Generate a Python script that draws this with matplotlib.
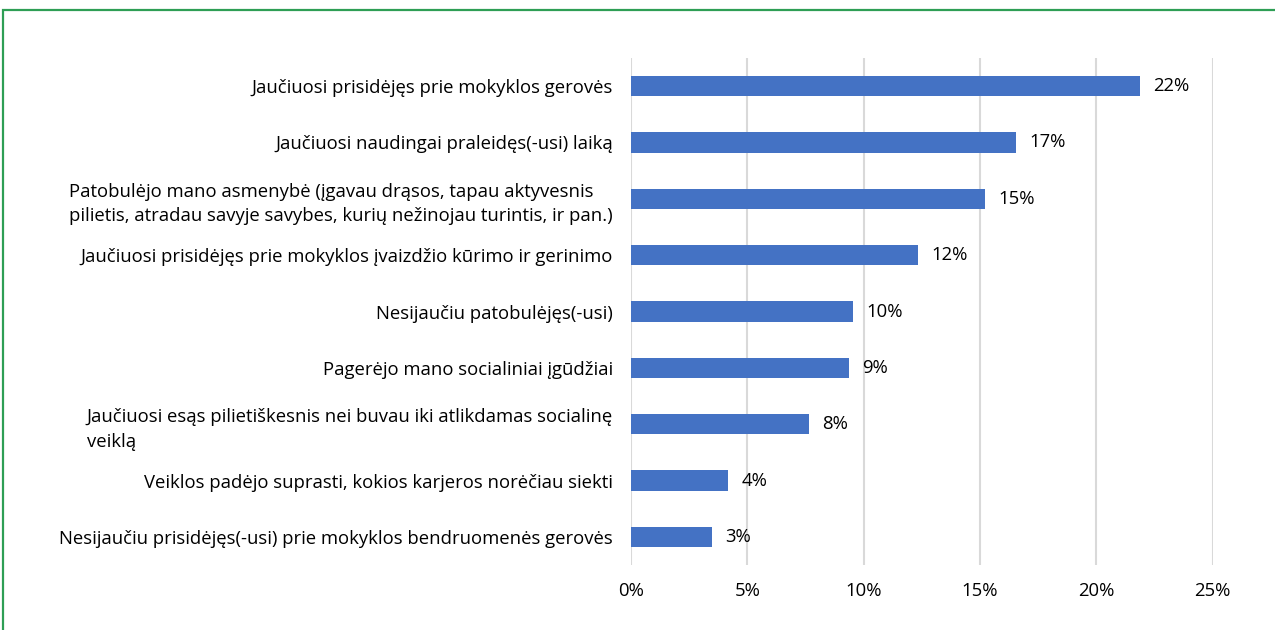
import matplotlib.pyplot as plt
from matplotlib.patches import Rectangle
from matplotlib.ticker import FuncFormatter

categories = [
    "Jaučiuosi prisidėjęs prie mokyklos gerovės",
    "Jaučiuosi naudingai praleidęs(-usi) laiką",
    "Patobulėjo mano asmenybė (įgavau drąsos, tapau aktyvesnis\n"
    "pilietis, atradau savyje savybes, kurių nežinojau turintis, ir pan.)",
    "Jaučiuosi prisidėjęs prie mokyklos įvaizdžio kūrimo ir gerinimo",
    "Nesijaučiu patobulėjęs(-usi)",
    "Pagerėjo mano socialiniai įgūdžiai",
    "Jaučiuosi esąs pilietiškesnis nei buvau iki atlikdamas socialinę\nveiklą",
    "Veiklos padėjo suprasti, kokios karjeros norėčiau siekti",
    "Nesijaučiu prisidėjęs(-usi) prie mokyklos bendruomenės gerovės",
]
values = [0.2186, 0.1654, 0.1520, 0.1233, 0.0954, 0.0936, 0.0765, 0.0417, 0.0348]
xticks = [0, 0.05, 0.10, 0.15, 0.20, 0.25]

plt.rcParams["font.family"] = ["Open Sans", "DejaVu Sans"]
FS = 13.3

fig = plt.figure(figsize=(12.75, 6.3), dpi=100)
ax = fig.add_axes([0.495, 0.103, 0.456, 0.805])

ypos = range(len(categories))
ax.barh(ypos, values, height=0.36, color="#4472c4", zorder=3)
for y, v in zip(ypos, values):
    ax.text(v + 0.0058, y, f"{round(v * 100):.0f}%", va="center", ha="left",
            fontsize=FS, color="#000000")

ax.set_yticks(list(ypos))
ax.set_yticklabels(categories, fontsize=FS, multialignment="left",
                   linespacing=1.45)
ax.set_ylim(len(categories) - 0.5, -0.5)

ax.set_xlim(0, 0.25)
ax.set_xticks(xticks)
ax.xaxis.set_major_formatter(FuncFormatter(lambda x, _: f"{x * 100:.0f}%"))
ax.tick_params(axis="x", length=0, pad=12, labelsize=FS)
ax.tick_params(axis="y", length=0, pad=13)
ax.grid(axis="x", color="#d9d9d9", linewidth=1.5, zorder=0)
for s in ax.spines.values():
    s.set_visible(False)

# green frame of the surrounding box
fig.add_artist(Rectangle((3 / 1275, -0.05), 1.1, 1 - 10 / 630 + 0.05,
                         transform=fig.transFigure, fill=False,
                         edgecolor="#2e9e55", linewidth=1.6))

fig.savefig("out.png", dpi=100)
